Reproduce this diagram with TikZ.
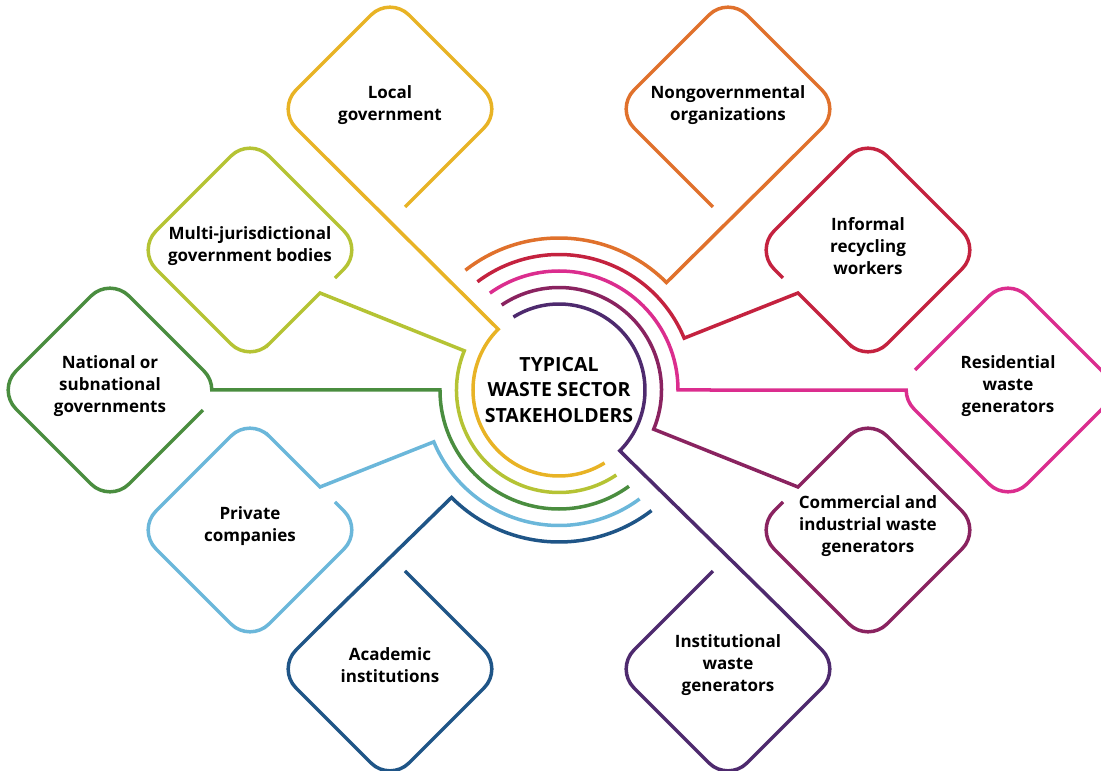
\documentclass[tikz,border=0pt]{standalone}
\usepackage{fontspec}
\setmainfont{Open Sans}
\definecolor{cLoc}{HTML}{E8B325}
\definecolor{cNgo}{HTML}{E0712C}
\definecolor{cMjg}{HTML}{B5C334}
\definecolor{cNat}{HTML}{4A8D3F}
\definecolor{cPrv}{HTML}{6BB7DA}
\definecolor{cAca}{HTML}{1F5587}
\definecolor{cIrw}{HTML}{C4223F}
\definecolor{cRes}{HTML}{DB2D8E}
\definecolor{cCig}{HTML}{8A2360}
\definecolor{cIns}{HTML}{4E2A6E}
\tikzset{ring/.style={line width=3.5pt,rounded corners=27pt},
  lbl/.style={align=center,font=\bfseries\fontsize{17}{22}\selectfont}}
\begin{document}
\begin{tikzpicture}[x=1pt,y=1pt]
  \useasboundingbox (-559,-381) rectangle (542,390);
  \node[lbl,font=\bfseries\fontsize{19.5}{25.5}\selectfont] (hub) at (0,0)
  {TYPICAL\\WASTE SECTOR\\STAKEHOLDERS};
  % labels sit a little above the middle of their diamonds
  \node[lbl] (loc) at (-169,285) {Local\\government};
  \node[lbl] (ngo) at (169,285) {Nongovernmental\\organizations};
  \node[lbl] (mjg) at (-309,144) {Multi-jurisdictional\\government bodies};
  \node[lbl] (irw) at (309,144) {Informal\\recycling\\workers};
  \node[lbl] (nat) at (-449,4) {National or\\subnational\\governments};
  \node[lbl] (res) at (449,4) {Residential\\waste\\generators};
  \node[lbl] (prv) at (-309,-136) {Private\\companies};
  \node[lbl] (cig) at (309,-136) {Commercial and\\industrial waste\\generators};
  \node[lbl] (aca) at (-169,-275) {Academic\\institutions};
  \node[lbl] (ins) at (169,-275) {Institutional\\waste\\generators};
  % left half: arcs run down to the lower right
  \draw[ring,cLoc] (loc.center) ++(0,-4) +(15,-98) -- +(113,0) -- +(0,113) -- +(-113,0)
  -- +(-60,-53) [sharp corners] -- (135:86) arc[start angle=135,end angle=302,radius=86];
  \draw[ring,cMjg] (mjg.center) ++(0,-4) +(85,-28) -- +(113,0) -- +(0,113) -- +(-113,0)
  -- +(0,-113) -- +(35,-78) [sharp corners] -- +(70,-43) -- (157.5:102.5)
  arc[start angle=157.5,end angle=304,radius=102.5];
  \draw[ring,cNat] (nat.center) ++(0,-4) +(93,-20) -- +(0,-113) -- +(-113,0) -- +(0,113)
  -- +(56.5,56.5) [sharp corners] -- +(93.9,19.1) arc[start angle=45,end angle=0,radius=27]
  -- (180:119) arc[start angle=180,end angle=306,radius=119];
  \draw[ring,cPrv] (prv.center) ++(0,-4) +(85,28) -- +(113,0) -- +(0,-113) -- +(-113,0)
  -- +(0,113) -- +(35,78) [sharp corners] -- +(70,43) -- (202.5:135.5)
  arc[start angle=202.5,end angle=306.5,radius=135.5];
  \draw[ring,cAca] (aca.center) ++(0,-4) +(15,98) -- +(113,0) -- +(0,-113) -- +(-113,0)
  -- +(-60,53) [sharp corners] -- (225:152) arc[start angle=225,end angle=307.5,radius=152];
  % right half: arcs run up to the upper left
  \draw[ring,cNgo] (ngo.center) ++(0,-4) +(-15,-98) -- +(-113,0) -- +(0,113) -- +(113,0)
  -- +(60,-53) [sharp corners] -- (45:152) arc[start angle=45,end angle=128,radius=152];
  \draw[ring,cIrw] (irw.center) ++(0,-4) +(-85,-28) -- +(-113,0) -- +(0,113) -- +(113,0)
  -- +(0,-113) -- +(-35,-78) [sharp corners] -- +(-70,-43) -- (22.5:135.5)
  arc[start angle=22.5,end angle=127,radius=135.5];
  \draw[ring,cRes] (res.center) ++(0,-4) +(-93,20) -- +(0,113) -- +(113,0) -- +(0,-113)
  -- +(-56.5,-56.5) [sharp corners] -- +(-93.9,-19.1) arc[start angle=225,end angle=180,radius=27]
  -- (0:119) arc[start angle=0,end angle=125.5,radius=119];
  \draw[ring,cCig] (cig.center) ++(0,-4) +(-85,28) -- +(-113,0) -- +(0,-113) -- +(113,0)
  -- +(0,113) -- +(-35,78) [sharp corners] -- +(-70,43) -- (-22.5:102.5)
  arc[start angle=-22.5,end angle=124,radius=102.5];
  \draw[ring,cIns] (ins.center) ++(0,-4) +(-15,98) -- +(-113,0) -- +(0,-113) -- +(113,0)
  -- +(60,53) [sharp corners] -- (-45:86) arc[start angle=-45,end angle=122,radius=86];
\end{tikzpicture}
\end{document}
